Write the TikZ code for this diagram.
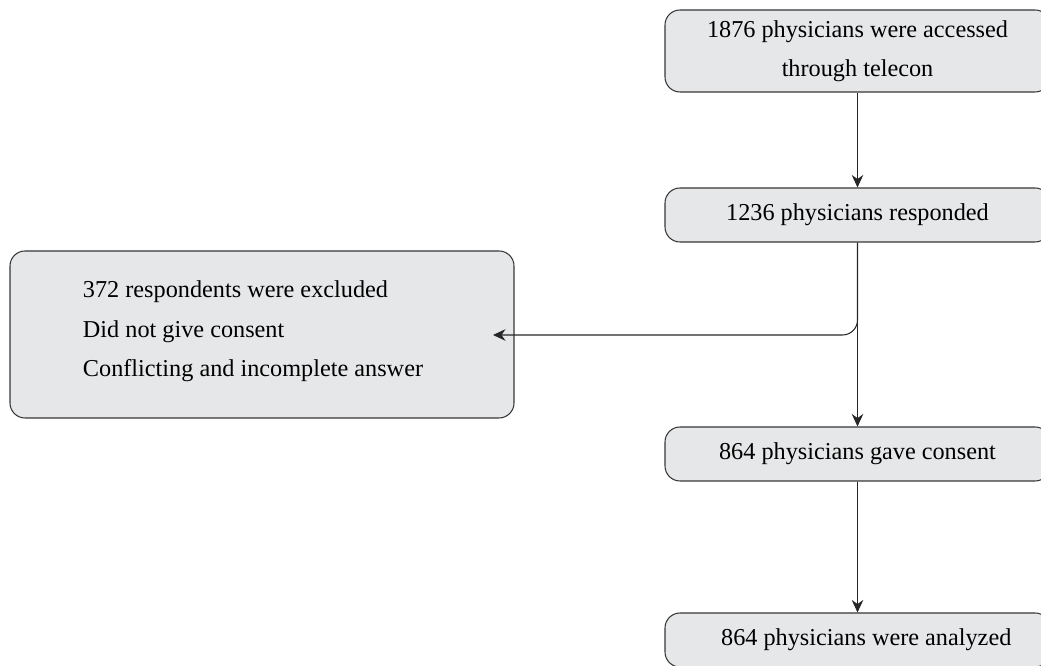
\documentclass[tikz,border=0pt]{standalone}
\usepackage{fontspec}
\setmainfont{Liberation Serif}
\definecolor{boxg}  {RGB}{230, 231, 232}
\definecolor{lineg} {RGB}{55, 55, 55}
\usetikzlibrary{arrows.meta, positioning}

\begin{document}
\begin{tikzpicture}[
        font=\fontsize{13.8}{22.5}\selectfont,
        flowbox/.style={draw=lineg, fill=boxg, rounded corners=0.3cm, line width=0.6pt, minimum width=7.7cm, minimum height=1.08cm, align=center},
        flowline/.style={draw=black!85, line width=0.6pt, -{Stealth[length=2.5mm, width=2.3mm]}}
    ]
        \useasboundingbox (0,0) rectangle (20.82,13.32);
        \clip (0,0) rectangle (20.82,13.32);
        \node[flowbox, minimum height=1.64cm] (accessed) at (17.15,12.3) {1876 physicians were accessed\\through telecon};
        \node[flowbox] (responded) at (17.15,9.02) {1236 physicians responded};
        \node[flowbox] (consent) at (17.15,4.24) {864 physicians gave consent};
        \node[flowbox] (analyzed) at (17.15,0.52) {\hspace{0.35cm}864 physicians were analyzed};
        \node[flowbox, minimum width=10.08cm, minimum height=3.34cm, align=left] (excluded) at (5.24,6.63) {372 respondents were excluded\\Did not give consent\\Conflicting and incomplete answer\rule{0.36cm}{0pt}\\[-16pt]\mbox{}};
        \coordinate (excltip) at (9.86,6.62);
        \draw[flowline] (accessed.south) -- (responded.north);
        \draw[flowline] (responded.south) -- (consent.north);
        \draw[flowline] (consent.south) -- (analyzed.north);
        \draw[flowline, rounded corners=0.3cm] (responded.south) |- (excltip);
    \end{tikzpicture}
\end{document}
